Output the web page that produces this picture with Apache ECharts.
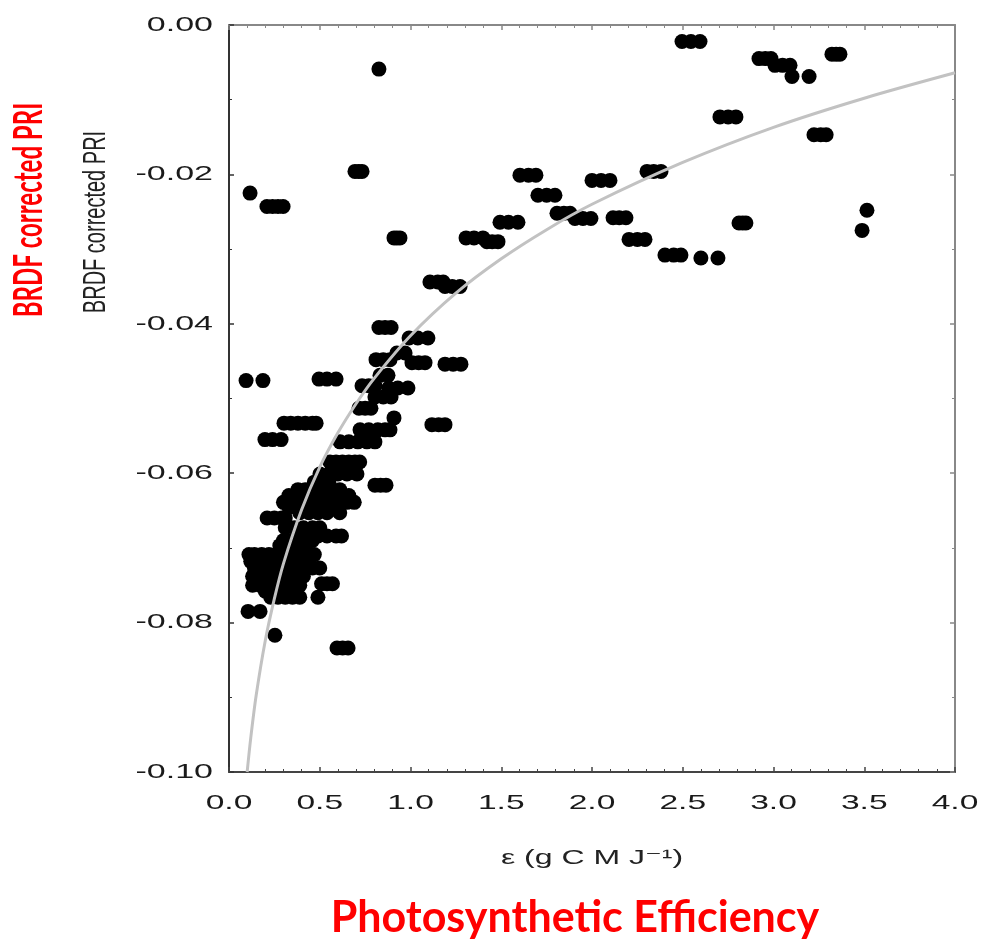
<!DOCTYPE html>
<html>
<head>
<meta charset="utf-8">
<script src="https://cdn.jsdelivr.net/npm/echarts/dist/echarts.min.js"></script>
<style>
html,body{margin:0;padding:0;background:#fff;}
#c{width:983px;height:943px;}
</style>
</head>
<body>
<div id="c"></div>
<script>
// ---- tick labels ----
const xTickValues = [0, 0.5, 1.0, 1.5, 2.0, 2.5, 3.0, 3.5, 4.0];
const xTickLabels = ['0.0', '0.5', '1.0', '1.5', '2.0', '2.5', '3.0', '3.5', '4.0'];
const yTickValues = [0, -0.02, -0.04, -0.06, -0.08, -0.10];
const yTickLabels = ['0.00', '-0.02', '-0.04', '-0.06', '-0.08', '-0.10'];

// ---- observations: each row = [BRDF corrected PRI, [epsilon values at that PRI]] ----
const obsRows = [
  [-0.0225, [0.116]],
  [-0.0243, [0.209, 0.24, 0.27, 0.298]],
  [-0.0196, [0.694, 0.715, 0.733]],
  [-0.0059, [0.826]],
  [-0.0285, [0.909, 0.925, 0.942]],
  [-0.0405, [0.826, 0.86, 0.893]],
  [-0.0285, [1.306, 1.35, 1.399]],
  [-0.0290, [1.421, 1.45, 1.482]],
  [-0.0264, [1.493, 1.54, 1.592]],
  [-0.0201, [1.603, 1.65, 1.691]],
  [-0.0228, [1.702, 1.75, 1.796]],
  [-0.0252, [1.807, 1.845, 1.879]],
  [-0.0259, [1.906, 1.95, 1.994]],
  [-0.0208, [2.0, 2.05, 2.099]],
  [-0.0258, [2.116, 2.15, 2.187]],
  [-0.0287, [2.204, 2.25, 2.292]],
  [-0.0196, [2.303, 2.34, 2.38]],
  [-0.0308, [2.402, 2.45, 2.49]],
  [-0.0312, [2.6, 2.694]],
  [-0.0265, [2.81, 2.83, 2.848]],
  [-0.0123, [2.705, 2.75, 2.793]],
  [-0.0022, [2.496, 2.545, 2.595]],
  [-0.0045, [2.92, 2.955, 2.986]],
  [-0.0054, [3.008, 3.05, 3.091]],
  [-0.0069, [3.102, 3.196]],
  [-0.0039, [3.322, 3.345, 3.366]],
  [-0.0147, [3.223, 3.26, 3.29]],
  [-0.0248, [3.515]],
  [-0.0275, [3.488]],
  [-0.0344, [1.107, 1.15, 1.18]],
  [-0.0350, [1.19, 1.23, 1.273]],
  [-0.0419, [0.992, 1.04, 1.096]],
  [-0.0454, [1.19, 1.235, 1.278]],
  [-0.0476, [0.094, 0.187]],
  [-0.0474, [0.496, 0.54, 0.59]],
  [-0.0535, [1.118, 1.155, 1.19]],
  [-0.0533, [0.303, 0.34, 0.38, 0.42, 0.46, 0.48]],
  [-0.0555, [0.198, 0.24, 0.287]],
  [-0.0448, [0.81, 0.85, 0.887]],
  [-0.0439, [0.925, 0.97]],
  [-0.0452, [1.008, 1.045, 1.08]],
  [-0.0469, [0.832, 0.876]],
  [-0.0483, [0.733, 0.77, 0.804]],
  [-0.0486, [0.88, 0.93, 0.986]],
  [-0.0498, [0.804, 0.85, 0.893]],
  [-0.0513, [0.716, 0.75, 0.782]],
  [-0.0526, [0.909]],
  [-0.0542, [0.722, 0.77, 0.82, 0.86, 0.887]],
  [-0.0558, [0.612, 0.66, 0.71, 0.76, 0.804]],
  [-0.0585, [0.556, 0.59, 0.625, 0.66, 0.694, 0.72]],
  [-0.0601, [0.501, 0.55, 0.60, 0.65, 0.705]],
  [-0.0612, [0.47, 0.51, 0.55]],
  [-0.0616, [0.804, 0.835, 0.865]],
  [-0.0622, [0.38, 0.42, 0.46, 0.50, 0.55, 0.61]],
  [-0.0630, [0.33, 0.37, 0.41, 0.45, 0.49, 0.53, 0.57, 0.62, 0.66]],
  [-0.0639, [0.30, 0.34, 0.38, 0.42, 0.46, 0.50, 0.55, 0.60, 0.65, 0.69]],
  [-0.0646, [0.33, 0.37, 0.41, 0.45, 0.49, 0.53, 0.57]],
  [-0.0653, [0.39, 0.44, 0.49, 0.54, 0.61]],
  [-0.0660, [0.21, 0.25, 0.29, 0.31]],
  [-0.0673, [0.31, 0.36, 0.41, 0.46, 0.50]],
  [-0.0684, [0.39, 0.44, 0.49, 0.54, 0.59, 0.62]],
  [-0.0690, [0.30, 0.34, 0.38, 0.42, 0.46]],
  [-0.0697, [0.28, 0.33, 0.38, 0.42]],
  [-0.0709, [0.11, 0.14, 0.18, 0.22, 0.26, 0.30, 0.34, 0.38, 0.42, 0.47]],
  [-0.0718, [0.12, 0.16, 0.20, 0.24, 0.28, 0.32, 0.36, 0.40, 0.44]],
  [-0.0727, [0.14, 0.18, 0.22, 0.26, 0.30, 0.34, 0.38, 0.42, 0.46, 0.50]],
  [-0.0738, [0.13, 0.17, 0.21, 0.25, 0.29, 0.33, 0.37, 0.41]],
  [-0.0750, [0.13, 0.17, 0.21, 0.25, 0.29, 0.33, 0.37, 0.39]],
  [-0.0758, [0.20, 0.24, 0.28, 0.32, 0.36]],
  [-0.0766, [0.23, 0.27, 0.31, 0.35, 0.39]],
  [-0.0748, [0.51, 0.54, 0.57]],
  [-0.0766, [0.49]],
  [-0.0785, [0.105, 0.171]],
  [-0.0817, [0.253]],
  [-0.0834, [0.595, 0.626, 0.656]]
];

// ---- fitted curve ----
const fitX = [0.1, 0.12, 0.15, 0.2, 0.25, 0.3, 0.4, 0.5, 0.6, 0.7, 0.8, 1.0, 1.25, 1.5, 1.75, 2.0, 2.5, 3.0, 3.5, 4.0];
const fitY = [-0.100, -0.0954, -0.0897, -0.0824, -0.0768, -0.0721, -0.0649, -0.0592, -0.0546, -0.0507, -0.0473, -0.0416, -0.0359, -0.0313, -0.0274, -0.0240, -0.0184, -0.0137, -0.0098, -0.0064];

const points = [];
obsRows.forEach(function (r) { r[1].forEach(function (x) { points.push([x, r[0]]); }); });
const fitData = fitX.map(function (x, i) { return [x, fitY[i]]; });

function axisX(pos, color) {
  return {
    type: 'value', min: 0, max: 4, interval: 0.5, position: pos,
    axisLine: { show: true, onZero: false, lineStyle: { color: color, width: 2 } },
    axisTick: { show: true, inside: true, length: 5, lineStyle: { color: color, width: 1.5 } },
    minorTick: { show: true, splitNumber: 5, length: 3, lineStyle: { color: color, width: 1 } },
    axisLabel: { show: false },
    splitLine: { show: false }
  };
}
function axisY(pos, color) {
  return {
    type: 'value', min: -0.1, max: 0, interval: 0.02, position: pos,
    axisLine: { show: true, onZero: false, lineStyle: { color: color, width: 2 } },
    axisTick: { show: true, inside: true, length: 5, lineStyle: { color: color, width: 1.5 } },
    minorTick: { show: true, splitNumber: 2, length: 3, lineStyle: { color: color, width: 1 } },
    axisLabel: { show: false },
    splitLine: { show: false }
  };
}

const chart = echarts.init(document.getElementById('c'));
chart.setOption({
  animation: false,
  backgroundColor: '#fff',
  grid: { left: 229, top: 25, width: 726, height: 747 },
  xAxis: [axisX('bottom', '#444'), axisX('top', '#888')],
  yAxis: [axisY('left', '#333'), axisY('right', '#888')],
  series: [
    {
      type: 'scatter', xAxisIndex: 0, yAxisIndex: 0, data: points,
      symbol: 'circle', symbolSize: 15, itemStyle: { color: '#000', opacity: 1 }, z: 2
    },
    {
      type: 'line', xAxisIndex: 0, yAxisIndex: 0, data: fitData, smooth: 0.3,
      showSymbol: false, lineStyle: { color: '#c2c2c2', width: 3 }, z: 3
    }
  ]
});

const g = [];
const tickFont = 'Liberation Sans, Arial, sans-serif';
xTickValues.forEach(function (v, i) {
  const p = chart.convertToPixel({ xAxisIndex: 0, yAxisIndex: 0 }, [v, -0.1]);
  g.push({ type: 'text', x: p[0], y: p[1] + 31, scaleX: 1.6,
    style: { text: xTickLabels[i], fontFamily: tickFont, fontSize: 21, fill: '#1a1a1a', align: 'center', verticalAlign: 'middle' } });
});
yTickValues.forEach(function (v, i) {
  const p = chart.convertToPixel({ xAxisIndex: 0, yAxisIndex: 0 }, [0, v]);
  g.push({ type: 'text', x: p[0] - 16, y: p[1], scaleX: 1.62,
    style: { text: yTickLabels[i], fontFamily: tickFont, fontSize: 21, fill: '#1a1a1a', align: 'right', verticalAlign: 'middle' } });
});
const pl = chart.convertToPixel({ xAxisIndex: 0, yAxisIndex: 0 }, [0, -0.1]);
const pr = chart.convertToPixel({ xAxisIndex: 0, yAxisIndex: 0 }, [4, -0.1]);
g.push({ type: 'text', x: (pl[0] + pr[0]) / 2, y: 858, scaleX: 1.6,
  style: { text: 'ε (g C M J⁻¹)', fontFamily: tickFont + ', DejaVu Sans', fontSize: 20, fill: '#222', align: 'center', verticalAlign: 'middle' } });
g.push({ type: 'text', x: 96, y: 222, rotation: Math.PI / 2, scaleY: 1.6,
  style: { text: 'BRDF corrected PRI', fontFamily: tickFont, fontSize: 20, fill: '#222', align: 'center', verticalAlign: 'middle' } });
g.push({ type: 'text', x: 29, y: 210, rotation: Math.PI / 2, scaleY: 1.7,
  style: { text: 'BRDF corrected PRI', fontFamily: 'Lato, Open Sans, sans-serif', fontWeight: 'bold', fontSize: 24, fill: '#ff0000', align: 'center', verticalAlign: 'middle' } });
g.push({ type: 'text', x: 575, y: 918,
  style: { text: 'Photosynthetic Efficiency', fontFamily: 'Lato, Open Sans, sans-serif', fontWeight: 'bold', fontSize: 43, fill: '#ff0000', align: 'center', verticalAlign: 'middle' } });
chart.setOption({ graphic: g });
</script>
</body>
</html>
